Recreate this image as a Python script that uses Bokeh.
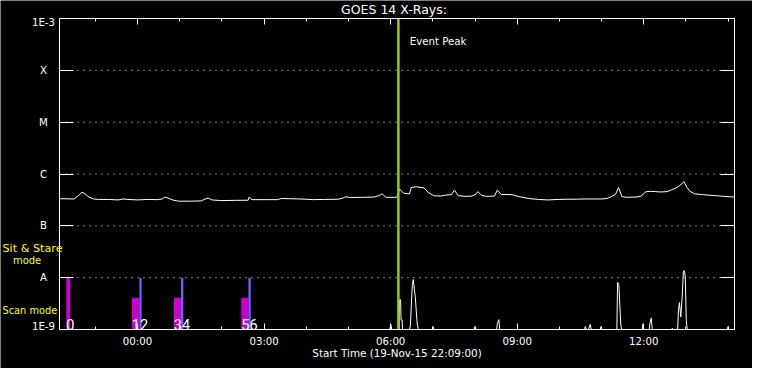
import math
import numpy as np
from bokeh.plotting import figure
from bokeh.models import (Range1d, FixedTicker, LinearAxis, LogAxis, LogScale, Label,
                          LabelSet, ColumnDataSource, CustomJSTickFormatter, Grid)
from bokeh.core.properties import value
from bokeh.embed import file_html
from bokeh.resources import INLINE

# ---------------- data ----------------
# time axis: minutes since start time 19-Nov-15 22:09:00
x_start, x_end = 0, 960
x_tick_minutes = [111, 291, 471, 651, 831]
x_tick_labels = ["00:00", "03:00", "06:00", "09:00", "12:00"]
x_minor_minutes = [51, 111, 171, 231, 291, 351, 411, 471, 531, 591, 651, 711, 771, 831, 891, 951]

y_tick_values = [1e-3, 1e-4, 1e-5, 1e-6, 1e-7, 1e-8, 1e-9]
y_tick_labels = ["1E-3", "X", "M", "C", "B", "A", "1E-9"]

# GOES 14 long channel (1-8 A), W/m^2
goes_time = [0, 20.9, 27.8, 32.0, 36.1, 41.7, 48.7, 55.6, 69.5, 83.4,
             90.4, 97.3, 111.2, 125.1, 139.0, 146.0, 150.1, 155.7, 162.6, 169.6,
             187.7, 201.6, 205.7, 211.3, 216.8, 229.4, 250.2, 268.3, 269.7, 273.8,
             291.9, 310.0, 315.5, 326.7, 340.6, 350.3, 361.4, 375.3, 396.2, 403.1,
             407.3, 412.8, 430.9, 447.6, 454.5, 458.7, 464.3, 479.6, 483.7, 489.3,
             497.6, 500.4, 507.4, 518.5, 524.0, 532.4, 542.1, 549.0, 557.4, 561.6,
             567.1, 576.9, 586.6, 592.1, 594.9, 600.5, 607.4, 618.6, 622.7, 628.3,
             643.6, 653.3, 667.2, 681.1, 695.0, 708.9, 722.8, 736.7, 750.6, 771.5,
             778.4, 785.4, 790.9, 795.1, 799.7, 806.2, 820.1, 827.1, 834.0, 841.0,
             854.9, 864.6, 870.1, 875.7, 881.3, 885.4, 888.2, 892.4, 896.6, 903.5,
             914.6, 931.3, 945.2, 959.1]
goes_flux = [3.34e-7, 3.30e-7, 3.91e-7, 4.45e-7, 4.17e-7, 3.59e-7, 3.30e-7, 3.23e-7, 3.23e-7, 3.16e-7,
             3.30e-7, 3.23e-7, 3.16e-7, 3.23e-7, 3.20e-7, 3.30e-7, 3.59e-7, 3.37e-7, 3.10e-7, 2.99e-7,
             2.99e-7, 3.03e-7, 3.23e-7, 3.44e-7, 3.16e-7, 3.07e-7, 3.10e-7, 3.12e-7, 3.59e-7, 3.20e-7,
             3.20e-7, 3.20e-7, 3.37e-7, 3.34e-7, 3.30e-7, 3.26e-7, 3.20e-7, 3.23e-7, 3.26e-7, 3.44e-7,
             3.64e-7, 3.52e-7, 3.55e-7, 3.59e-7, 3.83e-7, 4.14e-7, 3.55e-7, 3.55e-7, 5.12e-7, 4.26e-7,
             4.14e-7, 5.50e-7, 5.67e-7, 5.39e-7, 4.45e-7, 3.80e-7, 3.75e-7, 3.91e-7, 4.00e-7, 4.91e-7,
             3.83e-7, 3.70e-7, 3.75e-7, 4.08e-7, 4.58e-7, 3.86e-7, 3.70e-7, 3.75e-7, 4.91e-7, 4.03e-7,
             4.00e-7, 3.67e-7, 3.37e-7, 3.23e-7, 3.16e-7, 3.23e-7, 3.26e-7, 3.27e-7, 3.30e-7, 3.30e-7,
             3.37e-7, 3.67e-7, 4.08e-7, 5.50e-7, 3.67e-7, 3.55e-7, 3.59e-7, 3.75e-7, 4.54e-7, 4.64e-7,
             4.50e-7, 4.58e-7, 4.95e-7, 5.28e-7, 5.87e-7, 6.53e-7, 7.10e-7, 5.50e-7, 4.64e-7, 4.14e-7,
             4.00e-7, 3.83e-7, 3.70e-7, 3.59e-7]

# GOES 14 short channel (0.5-4 A), mostly below 1E-9
low_time = [0,
            469.8, 471.2, 472.6,
            483.0, 483.7, 485.1, 485.8, 487.2, 487.9,
            497.6, 499.0, 500.4, 501.8, 503.2, 504.6, 506.0, 507.4, 508.7, 510.1, 511.5,
            530.3, 531.4, 532.4,
            589.8, 590.8, 591.7,
            621.7, 622.7, 624.8, 626.2,
            746.8, 747.8, 749.2,
            751.5, 752.9, 754.8, 756.2,
            769.1, 770.1, 771.0,
            792.7, 793.7, 795.5, 796.9, 798.3, 799.7,
            828.9, 829.8, 830.8,
            838.6, 839.6, 841.6, 843.0,
            870.6, 871.5, 872.5,
            879.2, 880.3, 881.7, 883.6, 885.8, 887.2, 888.6, 890.0, 891.4, 892.8,
            949.8, 950.8, 951.7,
            960]
low_flux = [5e-10,
            5e-10, 1.25e-9, 5e-10,
            5e-10, 3.75e-9, 3.75e-9, 1.53e-9, 1.53e-9, 5e-10,
            5e-10, 1.19e-9, 3.0e-9, 7.4e-9, 9.2e-9, 6.0e-9, 4.3e-9, 2.25e-9, 1.3e-9, 1.04e-9, 5e-10,
            5e-10, 1.14e-9, 5e-10,
            5e-10, 1.14e-9, 5e-10,
            5e-10, 1.3e-9, 1.55e-9, 5e-10,
            5e-10, 1.14e-9, 5e-10,
            5e-10, 1.06e-9, 1.25e-9, 5e-10,
            5e-10, 1.14e-9, 5e-10,
            5e-10, 8.1e-9, 7.4e-9, 3.0e-9, 1.2e-9, 5e-10,
            5e-10, 1.28e-9, 5e-10,
            5e-10, 1.31e-9, 1.67e-9, 5e-10,
            5e-10, 1.06e-9, 5e-10,
            5e-10, 2.42e-9, 3.3e-9, 1.74e-9, 4.84e-9, 1.28e-8, 1.37e-8, 1.03e-8, 1.51e-9, 5e-10,
            5e-10, 1.14e-9, 5e-10,
            5e-10]

# observation modes
scan_start = [9.7, 102.9, 162.6, 258.5]
scan_end = [15.3, 113.6, 172.8, 268.7]
scan_top = [1e-8, 4.1e-9, 4.1e-9, 4.1e-9]
scan_labels = ["0", "12", "34", "56"]
stare_start = [113.6, 172.8, 268.7]
stare_end = [116.8, 176.1, 272.0]
stare_top = [1e-8, 1e-8, 1e-8]

event_peak = 482.0  # 06:11

# ---------------- layout / styles ----------------
W, H = 752, 368
BOX_L, BOX_R, BOX_T, BOX_B = 59, 734, 18, 329   # plot box inside the canvas (px)
FONT = "DejaVu Sans"
FS = "10.2px"
WHITE = "white"
MAGENTA = "#cc00cc"
BLUE = "#6464ff"
GREEN = "#99cc00"
YELLOW = "#ffff00"

y_lo, y_hi = y_tick_values[-1], y_tick_values[0]
min_per_px = (x_end - x_start) / (BOX_R - BOX_L)
dec_per_px = (math.log10(y_hi) - math.log10(y_lo)) / (BOX_B - BOX_T)
x_range = Range1d(x_start - BOX_L * min_per_px, x_end + (W - BOX_R) * min_per_px)
y_range = Range1d(10 ** (math.log10(y_lo) - (H - BOX_B) * dec_per_px),
                  10 ** (math.log10(y_hi) + BOX_T * dec_per_px))

p = figure(width=W, height=H, output_backend="svg", toolbar_location=None,
           x_range=x_range, y_range=y_range, y_axis_type="log",
           x_axis_location=None, y_axis_location=None,
           min_border=0, min_border_left=0, min_border_right=0, min_border_top=0, min_border_bottom=0,
           background_fill_color="black", border_fill_color="black", outline_line_color=None)
p.y_scale = LogScale()
# no default grids: the dotted grid is drawn below, limited to the plot box
p.center = [r for r in p.center if not isinstance(r, Grid)]
p.renderers = [r for r in p.renderers if not isinstance(r, Grid)]

empty_fmt = CustomJSTickFormatter(code="return ''")

def make_axis(cls, ticker, loc, bounds, tick_in, minor_in=0):
    ax = cls(ticker=ticker, formatter=empty_fmt, fixed_location=loc, bounds=bounds,
             major_label_text_font_size="0px", major_label_standoff=0,
             axis_line_color=WHITE, major_tick_line_color=WHITE, minor_tick_line_color=WHITE,
             major_tick_in=tick_in, major_tick_out=0, minor_tick_in=minor_in, minor_tick_out=0)
    return ax

x_ticker = FixedTicker(ticks=x_tick_minutes, minor_ticks=x_minor_minutes)
y_ticker = FixedTicker(ticks=y_tick_values)
p.add_layout(make_axis(LinearAxis, x_ticker, y_lo, (x_start, x_end), 6, 3), "below")
p.add_layout(make_axis(LinearAxis, x_ticker, y_hi, (x_start, x_end), 6, 3), "above")
p.add_layout(make_axis(LogAxis, y_ticker, x_start, (y_lo, y_hi), 14), "left")
p.add_layout(make_axis(LogAxis, y_ticker, x_end, (y_lo, y_hi), 14), "right")

# dotted horizontal grid at the inner decades
grid_y = y_tick_values[1:-1]
p.segment(x0=[x_start] * len(grid_y), x1=[x_end] * len(grid_y), y0=grid_y, y1=grid_y,
          line_color=WHITE, line_dash="1 5", line_width=1)

# data
p.quad(left=scan_start, right=scan_end, bottom=y_lo, top=scan_top,
       fill_color=MAGENTA, line_color=None)
p.quad(left=stare_start, right=stare_end, bottom=y_lo, top=stare_top,
       fill_color=BLUE, line_color=None)
p.line(low_time, np.maximum(np.array(low_flux), y_lo), line_color=WHITE, line_width=1)
p.line(goes_time, goes_flux, line_color=WHITE, line_width=1)
p.text(x=scan_start, y=[y_lo] * len(scan_start), text=scan_labels,
       text_color=WHITE, text_font=value("Roboto"), text_font_size="14.5px",
       text_baseline="bottom", text_align="left")
p.segment(x0=[event_peak], x1=[event_peak], y0=[y_lo], y1=[y_hi], line_color=GREEN, line_width=2.5)

# tick labels
n = len(y_tick_values)
ylab_src = ColumnDataSource(dict(
    x=[x_start] * n, y=y_tick_values, text=y_tick_labels,
    yoff=[-3.8 if i == 0 else (3.4 if i == n - 1 else 0) for i in range(n)]))
p.add_layout(LabelSet(x="x", y="y", text="text", source=ylab_src, x_offset=-16, y_offset="yoff",
                      text_align="center", text_baseline="middle", text_color=WHITE,
                      text_font=value(FONT), text_font_size=FS))
xlab_src = ColumnDataSource(dict(x=x_tick_minutes, y=[y_lo] * len(x_tick_minutes), text=x_tick_labels))
p.add_layout(LabelSet(x="x", y="y", text="text", source=xlab_src, y_offset=-11.5,
                      text_align="center", text_baseline="middle", text_color=WHITE,
                      text_font=value(FONT), text_font_size=FS))

p.add_layout(Label(x=event_peak, y=y_hi, x_offset=11.4, y_offset=-23.2, text="Event Peak",
                   text_color=WHITE, text_font=FONT, text_font_size=FS,
                   text_align="left", text_baseline="middle"))

# title and axis label
mid = (x_start + x_end) / 2
p.add_layout(Label(x=mid, y=y_hi, x_offset=-3, y_offset=9.4, text="GOES 14 X-Rays:",
                   text_color=WHITE, text_font=FONT, text_font_size="12.5px",
                   text_align="center", text_baseline="middle"))
p.add_layout(Label(x=mid, y=y_lo, y_offset=-23.7, text="Start Time (19-Nov-15 22:09:00)",
                   text_color=WHITE, text_font=FONT, text_font_size="10.4px",
                   text_align="center", text_baseline="middle"))

# mode labels
for txt, yv, xo, yo, fs in [("Sit & Stare", y_tick_values[-2], -57, 29, "11.2px"),
                            ("mode", y_tick_values[-2], -46.6, 17.5, "10px"),
                            ("Scan mode", y_lo, -57, 19.5, "9.8px")]:
    p.add_layout(Label(x=x_start, y=yv, x_offset=xo, y_offset=yo, text=txt,
                       text_color=YELLOW, text_font=FONT, text_font_size=fs,
                       text_align="left", text_baseline="middle"))

open("out.html", "w").write(file_html(p, INLINE))
